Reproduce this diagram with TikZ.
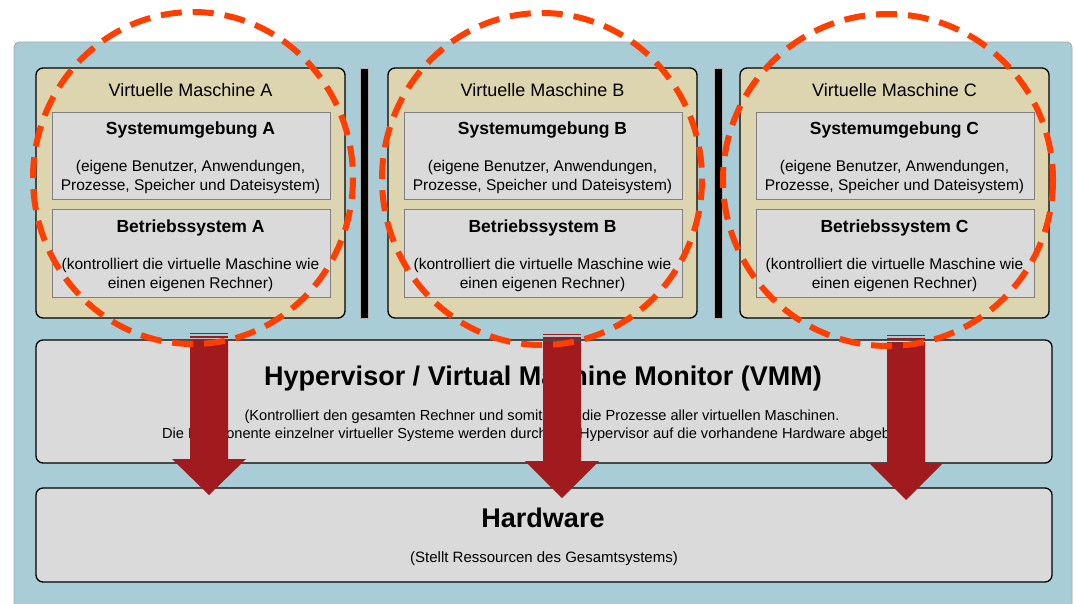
\documentclass[tikz,border=0pt]{standalone}
\usepackage{fontspec}
\setmainfont{Liberation Sans}
\definecolor{panelblue}{RGB}{168,205,214}
\definecolor{vmtan}{RGB}{221,213,176}
\definecolor{boxgray}{RGB}{218,218,218}
\definecolor{arrowred}{RGB}{160,26,30}
\definecolor{circred}{RGB}{255,62,0}
\tikzset{
  panel/.style={fill=panelblue,draw=gray!70,line width=0.8pt,rounded corners=5pt},
  vmbox/.style={fill=vmtan,draw=black,line width=1.3pt,rounded corners=7pt},
  innerbox/.style={fill=boxgray,draw=gray,line width=0.8pt},
  layerbox/.style={fill=boxgray,draw=black,line width=1.3pt,rounded corners=7pt},
  sepbar/.style={fill=black,draw=gray!60,line width=0.6pt},
  blockarrow/.style={fill=arrowred,draw=none},
  ring/.style={draw=circred,line width=6pt,dash pattern=on 21pt off 11pt},
  vmtitle/.style={font=\fontsize{18}{21}\selectfont},
  boxhead/.style={font=\fontsize{17.5}{21}\selectfont\bfseries},
  boxtext/.style={font=\fontsize{15.5}{19}\selectfont,align=center},
}
\begin{document}
\begin{tikzpicture}[x=1pt,y=-1pt]
\useasboundingbox (0,0) rectangle (1075,603);
\fill[white] (0,0) rectangle (1075,603);
\draw[panel] (14,42) rectangle (1072,610);
% separator bars
\draw[sepbar] (360,68) rectangle (368,318);
\draw[sepbar] (714,68) rectangle (722,318);
% VMs
\foreach \L/\x in {A/36,B/388,C/740}{
  \draw[vmbox] (\x,68) rectangle ++(309,250);
  \node[vmtitle] (vm\L) at (\x+154.5,90) {Virtuelle Maschine \L};
  \draw[innerbox] (\x+16,112) rectangle ++(278,87);
  \node[boxhead] (su\L) at (\x+154.5,130) {Systemumgebung \L};
  \node[boxtext] (sut\L) at (\x+154.5,176.5) {(eigene Benutzer, Anwendungen,\\Prozesse, Speicher und Dateisystem)};
  \draw[innerbox] (\x+16,209) rectangle ++(278,88);
  \node[boxhead] (bs\L) at (\x+154.5,228) {Betriebssystem \L};
  \node[boxtext] (bst\L) at (\x+154.5,274.5) {(kontrolliert die virtuelle Maschine wie\\einen eigenen Rechner)};
}
% hypervisor
\draw[layerbox] (36,340) rectangle (1052,463);
\node[font=\fontsize{27}{30}\selectfont\bfseries] (hv) at (543,379) {Hypervisor / Virtual Machine Monitor (VMM)};
\node[align=center,font=\fontsize{14.6}{18}\selectfont] (hvt) at (542,426) {(Kontrolliert den gesamten Rechner und somit auch die Prozesse aller virtuellen Maschinen.\\Die Komponente einzelner virtueller Systeme werden durch den Hypervisor auf die vorhandene Hardware abgebildet)};
% hardware
\draw[layerbox] (36,488) rectangle (1052,582);
\node[font=\fontsize{27}{30}\selectfont\bfseries] (hw) at (543,518) {Hardware};
\node[font=\fontsize{15}{18}\selectfont] (hwt) at (544,559) {(Stellt Ressourcen des Gesamtsystems)};
% block arrows
\foreach \c/\t/\h/\tip in {209/340/459/495, 562/341/461/498, 906/342/463/500}{
  \fill[blockarrow] (\c-19,\t) -- (\c+19,\t) -- (\c+19,\h) -- (\c+37,\h) -- (\c,\tip) -- (\c-37,\h) -- (\c-19,\h) -- cycle;
  \fill[blockarrow] (\c-19,\t-7) rectangle (\c+19,\t-6);
  \fill[blockarrow] (\c-19,\t-4) rectangle (\c+19,\t-2.5);
}
% dashed rings
\draw[ring] (193,178) ellipse [x radius=160, y radius=166];
\draw[ring] (542,179) ellipse [x radius=160, y radius=166];
\draw[ring] (888,180) ellipse [x radius=165, y radius=166];
\end{tikzpicture}
\end{document}
